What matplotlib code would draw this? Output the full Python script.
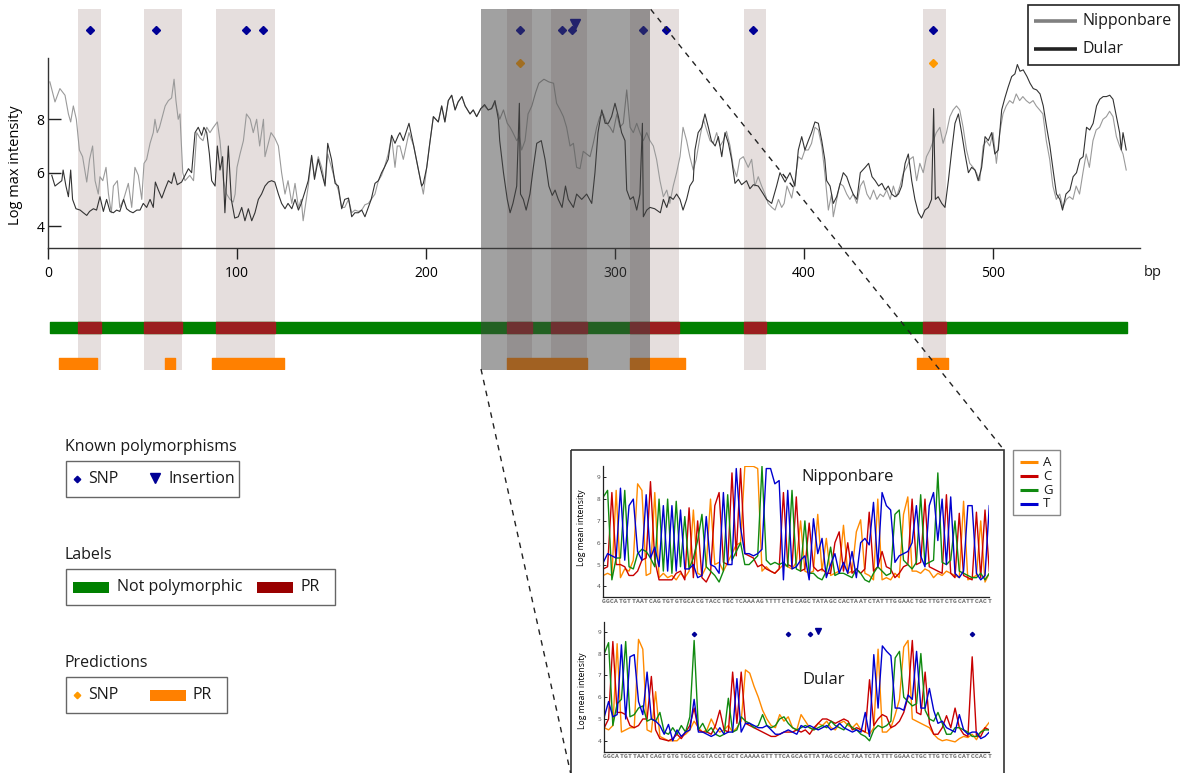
import matplotlib
matplotlib.use("Agg")
import matplotlib.pyplot as plt
from matplotlib.patches import Rectangle

plt.rcParams['font.family'] = ['Open Sans', 'DejaVu Sans']
plt.rcParams['text.color'] = '#1a1a1a'

# Log max intensity along the fragment (bp, value)
nip_bp = [1, 3.7, 6.3, 9, 10.8, 12, 13.4, 15, 16.6, 18.3, 20.5, 22, 23.6, 24.9, 26.6, 27.5, 29, 30.7, 32, 33.5,
          34.6, 36.7, 38, 40, 42.5, 44.3, 46, 47.8, 49.6, 50.8, 52.2, 54, 55.7, 56.6, 57.8, 59, 62, 63.7, 65.4, 66.7,
          67.7, 68.9, 69.8, 71.3, 72.5, 75, 77, 78.7, 80.4, 82, 84, 85.7, 87.5, 89.6, 91, 92.8, 94.5, 96.3, 98, 99,
          100, 101.6, 103.4, 105, 107, 108.6, 110.4, 112, 114, 114.8, 116.6, 118, 120, 121.9, 123.6, 125.4, 127, 129, 130.7, 132.5,
          134, 135, 137.7, 139.5, 141, 143, 144.8, 146.6, 148, 150, 151.9, 153.6, 155.4, 157, 159, 160.7, 162.4, 164.2, 166, 167.7,
          169.5, 171, 173, 174.8, 176.5, 178, 180, 181.8, 183.6, 184.8, 186.2, 188, 191, 193.5, 196, 198.6, 200.4, 202, 203.9, 206.5,
          208.3, 210, 211.8, 213.6, 215.4, 217, 219, 220.7, 223.3, 225, 226.8, 229, 231, 232.9, 234.7, 236.5, 238.3, 239, 241, 243,
          244.5, 246, 248, 249.4, 250.6, 252.4, 254, 256, 258, 259.7, 262.4, 265, 267.5, 269.1, 271, 272.7, 274.4, 276.2, 278, 279.7,
          281.5, 283.2, 285, 286.8, 288.5, 290.3, 292, 293.8, 295.6, 297.4, 299, 301, 302.6, 304.4, 306.2, 308, 309.7, 311.5, 313.2, 315,
          316.8, 318.5, 320.3, 322, 323.8, 325.6, 327.4, 329, 330.8, 332.6, 334.4, 336, 337.9, 339.6, 341.4, 343, 345, 346.8, 348.5, 350.3,
          352, 353.8, 355.6, 357.3, 359, 360.9, 362.6, 364.4, 366, 367.9, 370.5, 372.3, 374, 375.8, 377.6, 379.4, 381, 383, 384.7, 386.5,
          388.2, 389.5, 391, 393.5, 395.2, 397, 398.8, 400.5, 402.3, 404, 405.8, 407.6, 409.4, 411, 412.9, 414.6, 415.5, 417.3, 419, 420.8,
          422.6, 424.3, 426, 428, 429.8, 431.5, 433.3, 435, 436.8, 438.6, 440.3, 442, 443.8, 445.6, 447.3, 449, 450.8, 452.6, 454.3, 456,
          457.8, 459.6, 461.3, 463.1, 464.8, 466.6, 468.4, 470, 471.9, 473.6, 475.4, 477.2, 478.9, 480.7, 482.4, 484.2, 486, 487.7, 489.5, 491.2,
          493, 494.8, 496.5, 498.3, 500, 501.8, 503.6, 505.3, 507, 508.8, 510.6, 512.3, 514.1, 515.8, 517.6, 519.4, 521.2, 522.9, 524.7, 526.4,
          528.2, 530, 531.7, 533.5, 535.3, 537, 538.8, 540.5, 542.3, 544, 545.8, 547.6, 549.3, 551, 552.9, 554.6, 556.4, 558.2, 560, 561.7,
          563.5, 565.3, 567, 568.8, 570.5]
nip_val = [9.4, 8.65, 9.15, 8.9, 8.2, 7.9, 8.5, 8.0, 6.85, 6.6, 5.65, 6.5, 7.0, 5.7, 5.2, 5.85, 5.7, 6.2, 5.2, 4.5,
           5.5, 5.7, 4.7, 5.0, 5.6, 4.7, 6.2, 5.9, 5.0, 6.35, 6.5, 7.1, 7.5, 8.0, 7.5, 7.7, 8.5, 8.7, 8.8, 9.5,
           8.7, 8.0, 8.2, 6.0, 5.7, 5.9, 5.7, 7.5, 7.3, 7.2, 7.7, 7.5, 7.7, 7.9, 7.2, 5.7, 5.2, 5.0, 4.9, 5.2,
           6.2, 6.7, 7.2, 8.2, 8.0, 7.5, 8.0, 7.0, 8.0, 6.6, 7.1, 7.5, 7.3, 7.0, 6.0, 5.2, 5.7, 4.85, 5.6, 4.7,
           5.0, 4.2, 5.5, 6.6, 5.85, 6.6, 6.2, 5.6, 6.7, 6.2, 5.7, 5.35, 4.7, 4.7, 5.0, 4.5, 4.6, 4.55, 4.6, 4.8,
           4.85, 5.0, 5.2, 5.7, 5.9, 6.2, 6.7, 7.35, 6.2, 7.0, 7.0, 6.5, 7.5, 7.0, 6.1, 5.2, 6.2, 7.1, 8.1, 7.9,
           8.5, 7.9, 8.7, 8.9, 8.35, 8.65, 8.85, 8.5, 8.2, 8.35, 8.1, 8.4, 8.5, 8.35, 8.4, 8.6, 8.2, 8.0, 8.35, 7.85,
           7.7, 7.5, 7.2, 7.35, 6.85, 7.2, 8.2, 8.5, 9.0, 9.35, 9.5, 9.4, 9.35, 8.6, 8.35, 8.1, 7.7, 7.0, 7.1, 6.2,
           6.15, 6.8, 6.7, 6.6, 7.1, 7.7, 8.1, 8.2, 7.85, 7.7, 7.5, 8.2, 7.7, 7.85, 9.1, 7.7, 7.5, 7.85, 7.5, 7.2,
           7.5, 7.2, 7.0, 6.5, 5.7, 5.1, 5.35, 4.85, 5.5, 6.0, 6.6, 7.7, 7.2, 6.6, 6.1, 6.5, 7.35, 8.0, 7.6, 7.2,
           7.1, 7.5, 7.0, 7.2, 7.55, 7.0, 6.2, 5.85, 6.5, 6.6, 6.2, 6.5, 5.5, 5.85, 5.5, 5.2, 4.85, 4.7, 4.6, 5.0,
           4.7, 4.85, 5.5, 5.05, 5.7, 6.6, 6.5, 6.85, 6.85, 7.1, 7.7, 7.6, 7.0, 6.0, 4.6, 5.2, 4.35, 5.0, 5.6, 5.5,
           5.2, 5.0, 5.2, 4.85, 5.5, 5.7, 5.2, 5.0, 5.35, 5.0, 5.2, 5.1, 5.35, 5.0, 5.5, 5.1, 5.5, 6.0, 6.2, 6.5,
           6.6, 5.7, 6.35, 6.0, 6.6, 6.85, 7.2, 7.5, 7.7, 7.1, 7.5, 8.1, 8.35, 8.5, 8.35, 7.7, 6.85, 6.35, 6.2, 6.0,
           5.7, 7.0, 7.2, 7.0, 7.5, 6.35, 7.5, 8.2, 8.5, 8.7, 8.6, 8.95, 8.7, 8.85, 8.7, 8.6, 8.7, 8.5, 8.35, 8.2,
           7.2, 6.5, 5.5, 5.0, 5.2, 4.7, 5.0, 5.1, 5.0, 5.5, 5.2, 6.0, 6.7, 6.2, 7.2, 7.6, 7.7, 8.0, 8.1, 8.3,
           8.1, 7.35, 7.0, 6.7, 6.1]

dul_bp = [2, 3.7, 5.5, 7.3, 8, 9.5, 10.8, 12, 13, 14.8, 17, 18.7, 20.5, 22, 24, 25.7, 27.5, 29.3, 31, 32.8,
          34.6, 36.3, 38, 40, 41.6, 43.4, 45, 47, 48.7, 50.4, 52.2, 54, 55.7, 56.8, 58.4, 60.2, 62, 63.7, 65.4, 66.7,
          68.4, 70.7, 72.5, 74.3, 76, 77.8, 79.5, 81.3, 82.5, 84, 85.4, 86.6, 88.4, 89.6, 91, 92.4, 93.6, 95.4, 97, 98.8,
          100.7, 102.5, 104.2, 106, 107.8, 109.5, 111.3, 113, 114.8, 116.6, 118.3, 120, 121.9, 123.6, 125.4, 127, 129, 130.7, 132.5, 134,
          136, 137.7, 139.5, 141, 143, 144.8, 146.6, 148, 150, 151.9, 153.6, 155.4, 157, 159, 160.7, 162.4, 164.2, 166, 167.7, 169.5,
          171, 173, 174.8, 176.5, 178, 180, 181.8, 183.6, 185.4, 186.2, 188, 191, 193.5, 196, 197.7, 198.6, 200.4, 202, 203.9, 206.5,
          208.3, 210, 211.8, 213.6, 215.4, 217, 219, 220.7, 223.3, 225, 226.8, 229, 231, 232.9, 234.7, 236.5, 238.3, 239, 241, 243,
          244.5, 246, 248, 249.4, 250, 251.5, 253, 255, 256.8, 258.6, 261, 263, 265, 266.8, 268.3, 270, 272, 273.8, 275.3, 278,
          279.7, 282.4, 285, 287.7, 289.4, 291, 293, 294.8, 296.5, 298.2, 300, 301.8, 303.5, 305.3, 306.2, 308, 309.7, 311.5, 313.2, 314.5,
          315, 316.8, 318.5, 321, 324, 325.6, 327.4, 329, 330.8, 332.6, 334.4, 336, 337.9, 339.6, 341.4, 342.3, 344, 345.9, 347.6, 349.4,
          351, 353, 354.7, 356.5, 358.2, 360, 361.7, 363.5, 365.3, 367, 369.6, 371.4, 373.2, 375.8, 378.5, 380.2, 382.9, 385.5, 387.3, 390,
          392.6, 395.2, 397, 398.8, 400.5, 402.3, 404, 405.8, 407.6, 409.4, 411, 412, 413.8, 415.5, 417.3, 419, 420.8, 422.6, 424.3, 426,
          428, 429.8, 432.4, 434.2, 436, 437.7, 439.5, 441.2, 443, 444.6, 446.4, 448.2, 450, 451.7, 453.5, 455.2, 457, 458.7, 460.5, 462.2,
          464, 465.8, 467.5, 468.6, 469.5, 471, 472.9, 474.6, 476.4, 478.2, 479.9, 481.7, 483.4, 485.2, 487, 488.7, 490.5, 492.2, 494, 495.8,
          497.5, 499.3, 501, 502.8, 504.6, 506.3, 508, 509.9, 511.6, 512.9, 514.3, 516, 518, 519.6, 521.3, 523.1, 524.9, 526.6, 528.4, 530.1,
          532, 533.6, 535.4, 536.8, 538.6, 540.7, 542.4, 544.2, 546, 547.7, 549.5, 551.2, 553, 554.8, 556.5, 558.3, 560, 561.8, 563.5, 565.3,
          567, 567.9, 568.8, 570.5]
dul_val = [5.9, 5.5, 5.6, 5.7, 6.1, 5.5, 5.1, 6.1, 5.0, 4.65, 4.6, 4.5, 4.4, 4.55, 4.65, 4.6, 5.1, 4.55, 5.0, 4.55,
           4.5, 4.6, 4.55, 5.0, 4.65, 4.55, 4.5, 4.6, 4.6, 4.85, 4.7, 5.0, 4.7, 5.65, 5.35, 5.05, 5.4, 5.7, 5.6, 6.0,
           5.55, 5.65, 5.9, 6.15, 6.0, 7.5, 7.7, 7.4, 7.7, 7.5, 6.7, 5.7, 5.5, 7.0, 6.1, 6.6, 4.5, 7.0, 5.0, 4.3,
           4.35, 4.7, 4.2, 4.65, 4.2, 4.5, 5.0, 5.2, 5.5, 5.65, 5.7, 5.65, 5.2, 4.85, 4.65, 4.85, 4.65, 5.0, 4.6, 4.85,
           5.3, 5.7, 6.65, 5.75, 6.5, 6.0, 5.5, 7.1, 6.5, 5.6, 5.5, 4.65, 5.0, 5.05, 4.35, 4.5, 4.5, 4.6, 4.35, 4.7,
           5.0, 5.6, 5.7, 6.0, 6.2, 6.5, 7.4, 7.1, 7.4, 7.5, 7.2, 7.85, 7.0, 6.1, 5.5, 5.6, 6.2, 7.1, 8.1, 7.9,
           8.5, 7.9, 8.7, 8.9, 8.35, 8.65, 8.85, 8.5, 8.2, 8.35, 8.1, 8.4, 8.55, 8.35, 8.4, 8.7, 8.0, 7.2, 6.0, 5.0,
           4.5, 4.85, 5.5, 8.6, 5.2, 5.0, 4.6, 5.2, 6.2, 7.1, 7.2, 6.5, 5.5, 5.15, 5.35, 5.0, 4.7, 5.5, 5.0, 4.7,
           5.2, 5.0, 5.2, 4.85, 6.0, 7.5, 8.35, 7.85, 7.85, 8.1, 8.6, 8.1, 7.5, 7.2, 5.35, 5.0, 5.1, 4.6, 5.2, 7.85,
           4.35, 4.6, 4.7, 4.65, 4.5, 5.0, 4.7, 5.1, 5.0, 5.2, 5.0, 4.6, 5.0, 5.5, 5.7, 6.85, 7.5, 7.7, 8.2, 7.7,
           7.2, 7.0, 7.35, 6.6, 7.5, 7.1, 6.5, 5.6, 5.75, 5.55, 5.7, 5.4, 5.55, 5.5, 5.2, 5.0, 4.85, 5.5, 6.0, 5.65,
           6.0, 5.5, 6.85, 7.35, 6.85, 7.2, 7.5, 7.9, 7.85, 7.2, 6.5, 5.7, 5.5, 4.85, 5.1, 5.55, 6.0, 5.85, 5.5, 5.2,
           5.0, 6.0, 6.2, 6.35, 5.85, 5.7, 5.5, 5.6, 5.35, 5.5, 5.2, 5.1, 5.2, 5.5, 6.35, 6.7, 5.7, 5.0, 4.5, 4.3,
           4.6, 4.7, 5.0, 8.4, 5.0, 5.1, 4.85, 4.7, 5.7, 6.85, 7.85, 8.2, 7.5, 6.7, 6.0, 6.2, 6.1, 5.7, 6.2, 7.35,
           7.2, 7.5, 6.7, 6.85, 8.35, 8.8, 9.2, 9.6, 9.7, 10.05, 9.8, 9.85, 9.6, 9.35, 9.15, 9.1, 8.95, 8.5, 7.7, 7.0,
           6.0, 5.2, 5.0, 4.6, 5.2, 5.35, 5.85, 6.0, 6.5, 6.6, 7.7, 7.6, 7.85, 8.5, 8.75, 8.85, 8.85, 8.9, 8.75, 8.1,
           7.5, 6.85, 7.5, 6.85]

# Known polymorphisms, labels and predictions (bp)
snp_bp = [22, 57, 105, 114, 250, 272, 277, 315, 327, 373, 468]
insertion_bp = [279]
pr_regions = [(16, 28), (51, 71), (89, 120), (243, 256), (266, 285), (308, 334), (368, 380), (463, 475)]
pred_snp_bp = [250, 468]
pred_pr = [(6, 26), (62, 67), (87, 125), (243, 285), (308, 337), (460, 476)]
labelled_span = (1, 571)
zoom_span = (229, 318.5)

# Zoomed window: per-base log mean intensity for each probe channel
zoom_first_bp = 229
nip_seq = "GGCATGTTAATCAGTGTGTGCACGTACCTGCTCAAAAGTTTTCTGCAGCTATAGCCACTAATCTATTTGGAACTGCTTGTCTGCATTCACT"
dul_seq = "GGCATGTTAATCAGTGTGTGCGCGTACCTGCTCAAAAGTTTTCAGCAGTTATAGCCACTAATCTATTTGGAACTGCTTGTCTGCATCCACT"

nip_A = [4.5, 4.6, 4.5, 8.4, 4.4, 4.8, 4.7, 5.2, 8.7, 8.4,
         4.5, 4.6, 8.3, 4.4, 4.6, 4.4, 4.5, 4.3, 4.6, 4.4,
         4.7, 7.5, 4.6, 4.5, 4.9, 8.0, 5.0, 5.1, 4.7, 5.1,
         5.5, 5.9, 6.0, 9.5, 9.5, 9.5, 9.4, 4.7, 4.9, 4.7,
         4.6, 4.8, 5.0, 4.9, 4.8, 5.1, 7.0, 4.7, 4.6, 4.7,
         7.3, 4.7, 6.2, 4.5, 4.6, 4.7, 6.8, 4.6, 4.7, 6.5,
         7.05, 4.6, 4.5, 4.3, 8.0, 4.3, 4.4, 4.3, 4.6, 4.4,
         7.3, 8.1, 4.7, 4.7, 4.6, 4.8, 4.7, 4.4, 4.6, 4.5,
         4.7, 4.6, 4.5, 4.4, 7.9, 4.3, 4.4, 4.5, 7.0, 4.2,
         4.6]
nip_C = [4.8, 4.9, 8.3, 5.0, 5.0, 4.9, 4.5, 4.5, 4.7, 5.2,
         5.3, 8.8, 5.2, 4.3, 4.3, 4.3, 4.3, 4.6, 4.7, 4.3,
         7.6, 4.4, 7.0, 4.4, 4.2, 4.6, 7.7, 8.3, 5.1, 5.0,
         9.2, 5.4, 9.4, 5.5, 5.4, 5.3, 4.9, 5.0, 4.8, 4.7,
         4.6, 4.8, 8.3, 5.0, 4.9, 8.1, 4.7, 4.8, 6.9, 4.9,
         4.7, 4.8, 4.6, 4.6, 6.0, 6.5, 4.7, 6.0, 4.6, 4.8,
         4.6, 4.8, 7.4, 4.7, 4.9, 5.6, 4.9, 4.8, 4.4, 4.6,
         4.9, 5.0, 8.0, 5.0, 5.1, 8.0, 4.9, 4.8, 4.7, 4.6,
         8.2, 4.6, 4.4, 7.35, 4.5, 4.4, 4.3, 7.4, 4.4, 7.5,
         4.7]
nip_G = [8.1, 8.4, 4.3, 5.3, 5.3, 8.4, 4.9, 4.8, 5.5, 5.7,
         5.6, 5.3, 4.9, 8.0, 4.7, 8.0, 4.6, 7.9, 4.9, 7.2,
         4.8, 5.3, 6.1, 7.3, 4.9, 4.7, 4.5, 4.2, 4.7, 8.2,
         5.2, 5.6, 6.0, 5.0, 5.0, 5.2, 5.4, 9.5, 5.2, 5.0,
         5.1, 5.0, 5.1, 4.9, 8.4, 4.8, 4.7, 7.0, 4.6, 4.6,
         4.4, 4.3, 4.7, 5.8, 4.5, 4.6, 4.6, 4.5, 4.4, 4.8,
         4.6, 4.3, 4.2, 4.6, 4.9, 4.7, 4.5, 4.6, 7.3, 7.5,
         5.2, 5.0, 4.8, 5.1, 8.2, 5.0, 5.1, 5.2, 9.2, 5.1,
         5.0, 5.2, 7.0, 4.7, 4.6, 4.5, 4.4, 4.4, 4.6, 4.3,
         4.6]
nip_T = [5.1, 5.5, 5.4, 5.3, 8.5, 5.2, 7.7, 8.0, 5.6, 5.2,
         8.2, 5.3, 5.8, 4.9, 7.7, 4.7, 7.7, 4.7, 7.5, 4.8,
         4.8, 5.0, 4.4, 4.5, 7.2, 5.0, 4.9, 4.6, 8.3, 5.0,
         5.0, 9.4, 6.7, 5.5, 5.5, 5.4, 5.5, 5.7, 9.4, 9.4,
         8.7, 8.85, 4.3, 8.4, 4.8, 4.9, 5.2, 5.4, 4.3, 7.1,
         5.5, 6.2, 4.4, 5.0, 5.5, 4.6, 5.1, 4.6, 5.6, 4.4,
         6.0, 6.2, 5.9, 7.85, 4.9, 8.3, 7.7, 7.5, 5.1, 5.4,
         5.5, 5.6, 6.0, 7.7, 5.4, 4.9, 7.7, 8.3, 6.1, 8.0,
         5.0, 8.1, 4.6, 4.4, 4.7, 7.7, 7.7, 4.6, 4.3, 4.5,
         7.7]

dul_A = [4.6, 4.5, 4.7, 8.45, 4.4, 4.5, 4.6, 4.6, 8.65, 8.2,
         4.5, 4.4, 6.25, 4.2, 4.1, 4.0, 4.0, 4.0, 4.2, 4.3,
         4.5, 4.9, 4.6, 4.4, 4.5, 5.0, 4.6, 4.4, 4.5, 4.7,
         4.4, 4.6, 4.9, 7.25, 7.1, 6.5, 6.0, 5.4, 5.0, 4.7,
         4.6, 5.2, 4.9, 5.1, 4.6, 4.5, 5.2, 4.9, 4.6, 4.5,
         4.8, 4.7, 4.9, 4.6, 4.5, 4.8, 4.9, 4.7, 4.6, 4.8,
         4.5, 4.4, 4.3, 4.6, 8.2, 4.4, 4.4, 4.6, 5.2, 5.9,
         8.3, 8.6, 5.0, 4.9, 4.8, 4.7, 4.6, 4.3, 4.1, 4.0,
         4.05, 4.0, 3.95, 4.1, 4.2, 4.15, 4.3, 4.05, 4.4, 4.6,
         4.85]
dul_C = [4.6, 5.0, 8.55, 5.3, 5.3, 5.2, 4.7, 4.6, 4.7, 5.0,
         5.0, 6.95, 4.5, 4.1, 4.05, 4.0, 4.1, 4.3, 4.1, 4.4,
         4.7, 5.5, 4.5, 4.4, 4.4, 4.3, 4.7, 5.4, 4.5, 4.4,
         7.15, 4.8, 7.15, 4.8, 4.7, 4.6, 4.5, 4.4, 4.3, 4.2,
         4.2, 4.3, 4.4, 4.4, 4.4, 4.5, 4.4, 4.5, 4.3, 4.6,
         4.8, 5.0, 5.0, 4.9, 4.8, 4.9, 5.0, 4.9, 4.5, 4.6,
         4.5, 4.4, 6.8, 4.7, 5.0, 5.2, 5.1, 4.6, 4.7, 4.9,
         5.3, 6.0, 8.6, 5.3, 5.2, 7.15, 4.8, 4.3, 4.3, 4.6,
         5.15, 4.6, 5.5, 4.6, 4.3, 4.2, 7.85, 4.2, 4.2, 4.6,
         4.5]
dul_G = [8.0, 8.5, 4.7, 5.7, 5.9, 8.55, 5.1, 5.2, 5.5, 5.6,
         4.9, 5.0, 4.9, 5.3, 4.4, 4.3, 4.6, 4.3, 4.7, 4.4,
         5.1, 8.6, 4.5, 4.8, 4.4, 4.6, 4.3, 4.2, 4.3, 5.95,
         4.4, 4.5, 5.1, 4.9, 4.8, 4.6, 4.7, 5.2, 4.7, 4.6,
         4.7, 5.0, 5.1, 4.8, 4.6, 4.5, 4.6, 4.7, 4.6, 4.5,
         4.6, 4.7, 4.6, 4.9, 4.7, 4.6, 4.5, 4.8, 4.6, 4.5,
         4.3, 4.2, 4.0, 4.5, 4.7, 4.6, 4.7, 4.9, 7.8, 8.1,
         6.0, 5.8, 5.6, 5.7, 8.0, 5.4, 5.0, 4.9, 5.3, 4.8,
         4.3, 4.3, 4.6, 4.6, 4.5, 4.4, 4.2, 4.2, 4.4, 4.5,
         4.5]
dul_T = [5.1, 5.8, 5.1, 5.2, 8.4, 5.0, 7.85, 7.95, 5.8, 5.2,
         7.15, 5.0, 4.9, 4.7, 4.3, 4.75, 4.0, 4.5, 4.2, 4.4,
         4.5, 5.9, 4.4, 4.4, 4.3, 4.2, 4.3, 4.6, 4.3, 4.4,
         4.4, 6.85, 4.4, 4.8, 4.8, 4.7, 4.6, 4.6, 4.7, 4.5,
         4.3, 4.3, 4.4, 4.5, 4.4, 4.3, 4.7, 4.6, 4.7, 4.6,
         4.5, 4.6, 4.7, 4.5, 4.6, 4.8, 4.6, 4.5, 4.4, 4.5,
         4.4, 5.3, 4.2, 7.95, 5.5, 8.35, 8.1, 7.9, 5.5, 5.5,
         5.4, 6.1, 5.9, 8.1, 5.5, 5.5, 6.4, 5.4, 4.8, 4.9,
         4.6, 4.5, 4.4, 5.2, 4.5, 4.3, 4.4, 4.4, 4.1, 4.2,
         4.4]

NAVY = '#000096'
GREEN = '#008000'
RED = '#9b1e1e'
ORANGE = '#ff8000'
PINK = '#e5dedd'
base_colors = {'A': '#ff8a00', 'C': '#c80000', 'G': '#108a10', 'T': '#0000d0'}

W, H = 1180, 773
fig = plt.figure(figsize=(W / 100, H / 100), dpi=100)


def px_rect(x0, y0, x1, y1):
    return [x0 / W, 1 - y1 / H, (x1 - x0) / W, (y1 - y0) / H]


XMAX = 578
X0, X1 = 48, 1140.4

# background: labelled regions, label bar and prediction bar
ax_bg = fig.add_axes(px_rect(X0, 9, X1, 370), zorder=0)
ax_bg.set_xlim(0, XMAX)
ax_bg.set_ylim(370, 9)
ax_bg.axis('off')
for s, e in pr_regions:
    ax_bg.axvspan(s, e, color=PINK, lw=0)
ax_bg.broken_barh([(labelled_span[0], labelled_span[1] - labelled_span[0])], (322, 11), color=GREEN)
ax_bg.broken_barh([(s, e - s) for s, e in pr_regions], (322, 11), color=RED)
ax_bg.broken_barh([(s, e - s) for s, e in pred_pr], (358, 11), color=ORANGE)

# main intensity traces
ax = fig.add_axes(px_rect(X0, 9, X1, 248), zorder=1)
ax.patch.set_visible(False)
ax.plot(nip_bp, nip_val, color='#9a9a9a', lw=0.8)
ax.plot(dul_bp, dul_val, color='#333333', lw=0.8)
ax.plot(snp_bp, [11.34] * len(snp_bp), 'D', color=NAVY, ms=4, clip_on=False)
ax.plot(insertion_bp, [11.57] * len(insertion_bp), 'v', color=NAVY, ms=7.7, clip_on=False)
ax.plot(pred_snp_bp, [10.1] * len(pred_snp_bp), 'D', color='#ff9900', ms=4, clip_on=False)
ax.set_xlim(0, XMAX)
ax.set_ylim(3.18, 12.13)
for side in ['top', 'right']:
    ax.spines[side].set_visible(False)
for side in ['left', 'bottom']:
    ax.spines[side].set_color('#333333')
    ax.spines[side].set_linewidth(1.0)
ax.spines['left'].set_bounds(3.18, 10.3)
ax.set_xticks([0, 100, 200, 300, 400, 500])
ax.set_yticks([4, 6, 8])
ax.tick_params(axis='y', direction='in', length=9, width=1, pad=2.5, labelsize=10, color='#222')
ax.tick_params(axis='x', direction='out', length=8, width=1, pad=5, labelsize=10, color='#222')
ax.set_ylabel('Log max intensity', fontsize=10.5)
ax.yaxis.set_label_coords(-0.0225, 0.345)

# shaded zoom window
ax_zoom = fig.add_axes(px_rect(X0, 9, X1, 370), zorder=2)
ax_zoom.set_xlim(0, XMAX)
ax_zoom.set_ylim(370, 9)
ax_zoom.axis('off')
ax_zoom.axvspan(*zoom_span, color='#444444', alpha=0.5, lw=0)

# figure overlay in pixel units: legends, zoom lines, inset frame
ov = fig.add_axes([0, 0, 1, 1], zorder=3)
ov.set_xlim(0, W)
ov.set_ylim(H, 0)
ov.axis('off')

ov.text(1144, 273, 'bp', fontsize=10.5, ha='left', va='center')

ov.plot([650.7, 1004], [9.3, 450], ls=(0, (4, 4)), color='#222', lw=1)
ov.plot([481, 571], [369, 775], ls=(0, (4, 4)), color='#222', lw=1, clip_on=False)
ov.add_patch(Rectangle((571, 450), 433, 340, fill=False, ec='#333', lw=1.2, clip_on=False))

# strain legend
ov.add_patch(Rectangle((1028, 4.5), 151, 60.5, fc='white', ec='#222', lw=1.2))
ov.plot([1034, 1077], [21, 21], color='#808080', lw=2.6, solid_capstyle='butt')
ov.plot([1034, 1077], [49, 49], color='#222222', lw=2.6, solid_capstyle='butt')
ov.text(1083, 21, 'Nipponbare', fontsize=11.5, va='center')
ov.text(1083, 49, 'Dular', fontsize=11.5, va='center')

# Known polymorphisms legend
LEG_FS = 11.5
ov.text(65, 447, 'Known polymorphisms', fontsize=LEG_FS, va='center')
ov.add_patch(Rectangle((66, 461), 173, 36, fill=False, ec='#666', lw=1.0))
ov.plot(77, 479, 'D', color=NAVY, ms=3.3)
ov.text(88, 479, 'SNP', fontsize=LEG_FS, va='center')
ov.plot(155, 478, 'v', color=NAVY, ms=7)
ov.text(168, 479, 'Insertion', fontsize=LEG_FS, va='center')

# Labels legend
ov.text(65, 555, 'Labels', fontsize=LEG_FS, va='center')
ov.add_patch(Rectangle((66, 569), 269, 36, fill=False, ec='#666', lw=1.0))
ov.add_patch(Rectangle((73, 581.5), 36, 11, color=GREEN, lw=0))
ov.text(117, 587, 'Not polymorphic', fontsize=LEG_FS, va='center')
ov.add_patch(Rectangle((257, 581.5), 36, 11, color='#990000', lw=0))
ov.text(301, 587, 'PR', fontsize=LEG_FS, va='center')

# Predictions legend
ov.text(65, 663, 'Predictions', fontsize=LEG_FS, va='center')
ov.add_patch(Rectangle((66, 677), 161, 36, fill=False, ec='#666', lw=1.0))
ov.plot(77, 695, 'D', color='#ff9900', ms=3.3)
ov.text(88, 695, 'SNP', fontsize=LEG_FS, va='center')
ov.add_patch(Rectangle((150, 689.5), 36, 11, color=ORANGE, lw=0))
ov.text(193, 695, 'PR', fontsize=LEG_FS, va='center')

# base legend
ov.add_patch(Rectangle((1013, 450), 47, 65, fc='white', ec='#888', lw=1.0))
for b, yy in zip('ACGT', [462, 476, 490, 503.5]):
    ov.plot([1020, 1038], [yy, yy], color=base_colors[b], lw=2.2, solid_capstyle='butt')
    ov.text(1043, yy, b, fontsize=9.5, va='center')

# zoomed per-base panels
pos = list(range(zoom_first_bp, zoom_first_bp + len(nip_seq)))
panels = [
    (px_rect(603.3, 465.7, 989.3, 597.3), (3.5, 9.53), nip_seq,
     {'A': nip_A, 'C': nip_C, 'G': nip_G, 'T': nip_T}, 0.527),
    (px_rect(604.3, 621.7, 989.3, 751.7), (3.5, 9.46), dul_seq,
     {'A': dul_A, 'C': dul_C, 'G': dul_G, 'T': dul_T}, 0.467),
]
inset_axes = []
for rect, ylim, seq, chans, lab_y in panels:
    a = fig.add_axes(rect, zorder=4)
    a.patch.set_visible(False)
    for b in 'ACGT':
        a.plot(pos, chans[b], color=base_colors[b], lw=1.0)
    a.set_xlim(pos[0], pos[-1])
    a.set_ylim(*ylim)
    for side in ['top', 'right']:
        a.spines[side].set_visible(False)
    for side in ['left', 'bottom']:
        a.spines[side].set_color('#222')
        a.spines[side].set_linewidth(0.9)
    a.set_yticks([4, 5, 6, 7, 8, 9])
    a.tick_params(axis='y', direction='in', length=2.5, width=0.6, labelsize=4.5,
                  labelcolor='#444', pad=2)
    a.set_xticks(pos)
    a.set_xticklabels(list(seq), fontsize=4.6, family='Liberation Mono',
                      fontweight='bold', color='#666')
    a.tick_params(axis='x', length=0, pad=1.5)
    a.set_ylabel('Log mean intensity', fontsize=6.2)
    a.yaxis.set_label_coords(-0.046, lab_y)
    inset_axes.append(a)

ax_n, ax_d = inset_axes
ov.text(848, 477, 'Nipponbare', fontsize=12, ha='center', va='center')
ov.text(824, 680, 'Dular', fontsize=12, ha='center', va='center')

# known polymorphisms inside the window
win_snps = [b for b in snp_bp if zoom_span[0] <= b <= zoom_span[1]]
ax_d.plot(win_snps, [8.9] * len(win_snps), 'D', color=NAVY, ms=2.2, clip_on=False)
ax_d.plot(insertion_bp, [9.05] * len(insertion_bp), 'v', color=NAVY, ms=4.5, clip_on=False)

fig.savefig('out.png', dpi=100)
